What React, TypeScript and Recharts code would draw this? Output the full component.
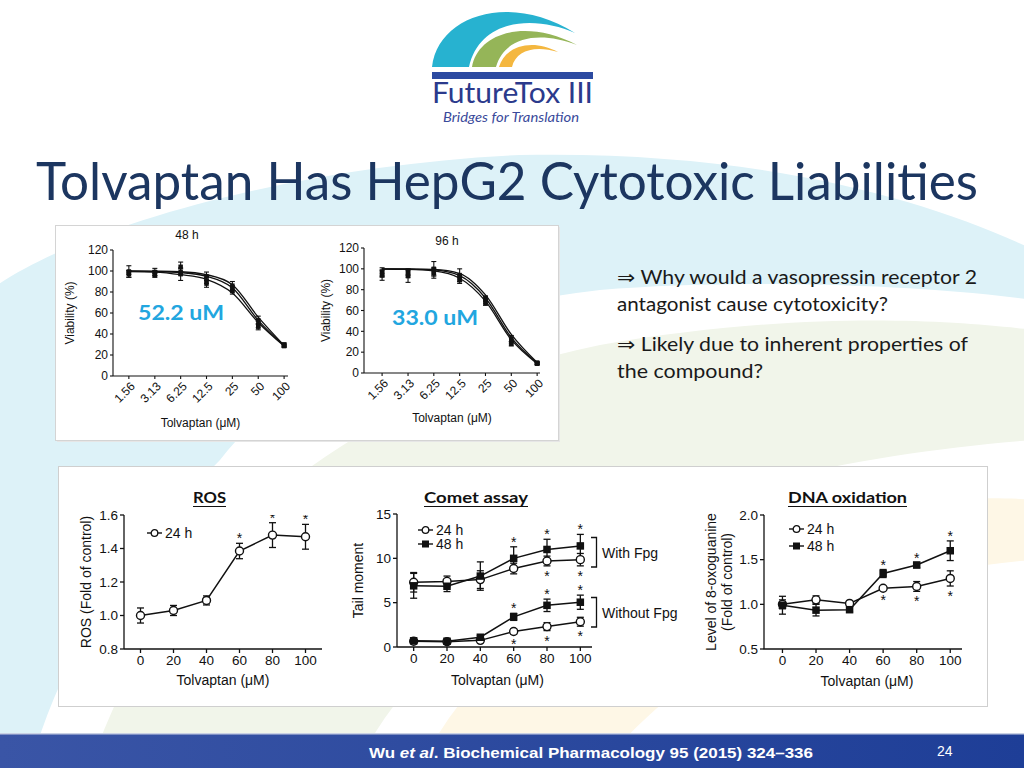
import React from 'react';
import { ComposedChart, Line, XAxis, YAxis, ErrorBar, Legend } from 'recharts';

const CHART_FONT = '"Liberation Sans", Arial, sans-serif';
const SLIDE_FONT = 'Lato, "Open Sans", sans-serif';
const INK = '#111';

// ---- cell viability, top-left panel ----
const CONC = [1.56, 3.13, 6.25, 12.5, 25, 50, 100];
const VIAB_TICKS = [0, 20, 40, 60, 80, 100, 120];

// 48 h: three fitted curves + three replicate series (mean, SD)
const FIT_48H_A = [100, 99.8, 99.3, 96.5, 87, 56, 29];
const FIT_48H_B = [99.8, 99.5, 98.5, 95, 84, 53, 28.8];
const FIT_48H_C = [99.5, 99, 96.5, 92, 79, 51, 28.5];
const REP_48H_1 = [99.5, 99, 104, 95, 86, 53, 30];
const REP_48H_1_SD = [5.5, 3.5, 4.5, 4, 4, 4, 1.5];
const REP_48H_2 = [97, 96, 97, 91, 83, 49, 29];
const REP_48H_2_SD = [3, 2, 6, 3, 3, 3, 1.5];
const REP_48H_3 = [98.5, 98, 99, 88, 81, 47, 28.5];
const REP_48H_3_SD = [2, 2.5, 3, 3.5, 3, 3, 1];

// 96 h
const FIT_96H_A = [100, 100, 99.5, 95.5, 75, 37, 10];
const FIT_96H_B = [100, 99.8, 99, 93.5, 72, 34, 9.5];
const FIT_96H_C = [99.8, 99.5, 98, 91, 69, 32, 9];
const REP_96H_1 = [97, 97, 100, 94, 72, 33, 10];
const REP_96H_1_SD = [4, 3, 7, 6, 2, 3, 1];
const REP_96H_2 = [94, 93, 96, 91, 70, 31, 9];
const REP_96H_2_SD = [5, 6, 5, 3, 3, 3, 1];
const REP_96H_3 = [95, 95, 97, 89, 67, 28, 9];
const REP_96H_3_SD = [3, 3, 3, 3, 2, 2, 1];

// ---- bottom panel: dose 0-100 uM ----
const DOSE = [0, 20, 40, 60, 80, 100];

const ROS_24H = [1.0, 1.03, 1.09, 1.385, 1.48, 1.47];
const ROS_24H_ERR = [0.045, 0.03, 0.027, 0.046, 0.074, 0.074];
const ROS_24H_SIG = [0, 0, 0, 1, 1, 1];

const COMET_24H_FPG = [7.3, 7.4, 7.6, 8.85, 9.7, 9.85];
const COMET_24H_FPG_ERR = [1.1, 0.6, 1.0, 0.6, 0.55, 0.7];
const COMET_24H_FPG_SIG = [0, 0, 0, 0, 1, 1];
const COMET_48H_FPG = [6.9, 6.85, 8.0, 10.0, 11.0, 11.4];
const COMET_48H_FPG_ERR = [1.4, 0.6, 1.6, 1.3, 1.15, 1.3];
const COMET_48H_FPG_SIG = [0, 0, 0, 1, 1, 1];
const COMET_24H = [0.65, 0.6, 0.75, 1.75, 2.3, 2.85];
const COMET_24H_ERR = [0.1, 0.1, 0.1, 0.3, 0.45, 0.5];
const COMET_24H_SIG = [0, 0, 0, 1, 1, 1];
const COMET_48H = [0.7, 0.65, 1.1, 3.4, 4.7, 5.05];
const COMET_48H_ERR = [0.1, 0.1, 0.2, 0.4, 0.7, 0.8];
const COMET_48H_SIG = [0, 0, 0, 1, 1, 1];

const DNA_24H = [1.0, 1.05, 1.01, 1.18, 1.2, 1.29];
const DNA_24H_ERR = [0.05, 0.045, 0.02, 0.02, 0.055, 0.085];
const DNA_24H_SIG = [0, 0, 0, 1, 1, 1];
const DNA_48H = [0.99, 0.935, 0.94, 1.345, 1.44, 1.6];
const DNA_48H_ERR = [0.1, 0.065, 0.025, 0.045, 0.03, 0.11];
const DNA_48H_SIG = [0, 0, 0, 1, 1, 1];

// ---------- small render helpers ----------
const square = (s: number) => (p: any) =>
  p.cx == null || p.cy == null ? (
    <g key={'q' + p.index} />
  ) : (
    <rect key={'q' + p.index} x={p.cx - s / 2} y={p.cy - s / 2} width={s} height={s} fill={INK} />
  );

const openCircle = (r: number) => (p: any) =>
  p.cx == null || p.cy == null ? (
    <g key={'c' + p.index} />
  ) : (
    <circle key={'c' + p.index} cx={p.cx} cy={p.cy} r={r} fill="#fff" stroke={INK} strokeWidth={1.4} />
  );

const starDot = (p: any) =>
  p.cx == null || p.cy == null || p.value == null ? (
    <g key={'s' + p.index} />
  ) : (
    <text key={'s' + p.index} x={p.cx} y={p.cy + 7.5} textAnchor="middle" fontSize={14} fontFamily={CHART_FONT} fill={INK}>
      *
    </text>
  );

const slantTick = (p: any) => {
  const x = p.x + 4;
  const y = p.y + 3;
  return (
    <text x={x} y={y} dy="0.35em" transform={`rotate(-45 ${x} ${y})`} textAnchor="end" fontSize={12} fontFamily={CHART_FONT} fill={INK}>
      {String(p.payload.value)}
    </text>
  );
};

// rotated y-axis title, x / cy in chart coordinates
const yTitle = (lines: string[], x: number, cy: number, fs: number) => () => (
  <g>
    {lines.map((t, i) => (
      <text
        key={t}
        x={x + i * (fs + 2)}
        y={cy}
        transform={`rotate(-90 ${x + i * (fs + 2)} ${cy})`}
        textAnchor="middle"
        dominantBaseline="central"
        fontSize={fs}
        fontFamily={CHART_FONT}
        fill={INK}
      >
        {t}
      </text>
    ))}
  </g>
);

function KeyBox({ items, row }: { items: { label: string; marker: string }[]; row: number }) {
  return (
    <div style={{ fontFamily: CHART_FONT, fontSize: 14, color: INK }}>
      {items.map((it) => (
        <div key={it.label} style={{ display: 'flex', alignItems: 'center', height: row }}>
          <svg width={15} height={10} style={{ marginRight: 3 }}>
            <line x1={0} x2={15} y1={5} y2={5} stroke={INK} strokeWidth={1.4} />
            {it.marker === 'circle' ? (
              <circle cx={7.5} cy={5} r={3.3} fill="#fff" stroke={INK} strokeWidth={1.3} />
            ) : (
              <rect x={4} y={1.5} width={7} height={7} fill={INK} />
            )}
          </svg>
          <span>{it.label}</span>
        </div>
      ))}
    </div>
  );
}

// ---------- viability chart ----------
function ViabilityChart({ fits, reps, sds, box, domain }: any) {
  const rows = CONC.map((c, i) => {
    const r: Record<string, number> = { conc: c };
    fits.forEach((f: number[], k: number) => (r['fit' + k] = f[i]));
    reps.forEach((p: number[], k: number) => {
      r['rep' + k] = p[i];
      r['sd' + k] = sds[k][i];
    });
    return r;
  });
  const plotH = box.h - box.mt - box.xh;
  return (
    <div style={{ position: 'absolute', left: box.left, top: box.top }}>
      <ComposedChart width={box.w} height={box.h} data={rows} margin={{ top: box.mt, right: 10, bottom: 0, left: 5 }}>
        <XAxis
          dataKey="conc"
          type="number"
          scale="log"
          domain={domain}
          allowDataOverflow
          ticks={CONC}
          interval={0}
          height={box.xh}
          tickSize={3}
          tickMargin={2}
          tick={slantTick}
          axisLine={{ stroke: INK, strokeWidth: 1.1 }}
          tickLine={{ stroke: INK, strokeWidth: 1.1 }}
          label={{ value: 'Tolvaptan (μM)', position: 'insideBottom', offset: 5, fontSize: 12, fill: INK, fontFamily: CHART_FONT }}
        />
        <YAxis
          type="number"
          domain={[0, 120]}
          ticks={VIAB_TICKS}
          interval={0}
          width={box.yw}
          tickSize={3}
          tickMargin={2}
          tick={{ fontSize: 12, fill: INK, fontFamily: CHART_FONT }}
          axisLine={{ stroke: INK, strokeWidth: 1.1 }}
          tickLine={{ stroke: INK, strokeWidth: 1.1 }}
          label={{ content: yTitle(['Viability (%)'], box.yt, box.mt + plotH / 2, 12) }}
        />
        {fits.map((_: number[], k: number) => (
          <Line key={'f' + k} dataKey={'fit' + k} type="monotone" stroke={INK} strokeWidth={1.3} dot={false} activeDot={false} legendType="none" isAnimationActive={false} />
        ))}
        {reps.map((_: number[], k: number) => (
          <Line key={'r' + k} dataKey={'rep' + k} stroke="none" dot={square(4.5)} activeDot={false} legendType="none" isAnimationActive={false}>
            <ErrorBar dataKey={'sd' + k} width={2.5} stroke={INK} strokeWidth={1.1} direction="y" />
          </Line>
        ))}
      </ComposedChart>
    </div>
  );
}

// ---------- dose-response charts ----------
type Series = { key: string; values: number[]; errs: number[]; marker: string; sig?: number[]; side?: number };

function DoseChart({ series, box, yDomain, yTicks, yFmt, xDomain, starPad, yLines, legend, xDx }: any) {
  const rows = DOSE.map((d, i) => {
    const r: Record<string, number | null> = { dose: d };
    series.forEach((s: Series) => {
      r[s.key] = s.values[i];
      r[s.key + 'E'] = s.errs[i];
      r[s.key + 'S'] = s.sig && s.sig[i] ? s.values[i] + (s.side || 1) * (s.errs[i] + starPad) : null;
    });
    return r;
  });
  const plotH = box.h - box.mt - box.xh;
  return (
    <div style={{ position: 'absolute', left: box.left, top: box.top }}>
      <ComposedChart width={box.w} height={box.h} data={rows} margin={{ top: box.mt, right: 10, bottom: 0, left: 4 }}>
        <XAxis
          dataKey="dose"
          type="number"
          domain={xDomain}
          allowDataOverflow
          ticks={DOSE}
          interval={0}
          height={box.xh}
          tickSize={4}
          tickMargin={2}
          tick={{ fontSize: 13.5, fill: INK, fontFamily: CHART_FONT }}
          axisLine={{ stroke: INK, strokeWidth: 1.3 }}
          tickLine={{ stroke: INK, strokeWidth: 1.3 }}
          label={{ value: 'Tolvaptan (μM)', position: 'insideBottom', offset: 5, dx: xDx, fontSize: 14, fill: INK, fontFamily: CHART_FONT }}
        />
        <YAxis
          type="number"
          domain={yDomain}
          allowDataOverflow
          ticks={yTicks}
          interval={0}
          tickFormatter={yFmt}
          width={box.yw}
          tickSize={4}
          tickMargin={2}
          tick={{ fontSize: 13.5, fill: INK, fontFamily: CHART_FONT }}
          axisLine={{ stroke: INK, strokeWidth: 1.3 }}
          tickLine={{ stroke: INK, strokeWidth: 1.3 }}
          label={{ content: yTitle(yLines, box.yt, box.mt + plotH / 2, 14) }}
        />
        {series.map((s: Series) => (
          <Line
            key={s.key}
            dataKey={s.key}
            stroke={INK}
            strokeWidth={1.5}
            dot={s.marker === 'circle' ? openCircle(4) : square(7.5)}
            activeDot={false}
            legendType="none"
            isAnimationActive={false}
          >
            <ErrorBar dataKey={s.key + 'E'} width={3.5} stroke={INK} strokeWidth={1.3} direction="y" />
          </Line>
        ))}
        {series
          .filter((s: Series) => s.sig)
          .map((s: Series) => (
            <Line key={s.key + 'S'} dataKey={s.key + 'S'} stroke="none" dot={starDot} activeDot={false} legendType="none" isAnimationActive={false} />
          ))}
        <Legend
          layout="vertical"
          align="center"
          verticalAlign="middle"
          wrapperStyle={{ left: legend.x, top: legend.y, width: 60 }}
          content={() => <KeyBox items={legend.items} row={legend.row} />}
        />
      </ComposedChart>
    </div>
  );
}

function Backdrop() {
  const body = { fontFamily: SLIDE_FONT, fontSize: 18.5, fill: '#1a1a1a' };
  return (
    <svg width={1024} height={768} style={{ position: 'absolute', left: 0, top: 0 }}>
      <defs>
        <linearGradient id="footGrad" x1="0" y1="0" x2="1" y2="0">
          <stop offset="0" stopColor="#3a55a6" />
          <stop offset="1" stopColor="#1e3e97" />
        </linearGradient>
      </defs>
      {/* faint watermark arcs */}
      <path d="M -10 768 L -10 290 C 80 225 300 165 520 155 C 760 150 930 200 1034 250 L 1034 300 C 900 282 720 280 600 290 C 420 310 280 380 220 460 C 120 560 60 660 30 768 Z" fill="#ddf2f8" />
      <path d="M 90 768 C 160 560 330 400 600 345 C 800 310 950 320 1034 330 L 1034 440 C 900 450 720 480 600 540 C 480 600 400 680 355 768 Z" fill="#f1f5ea" />
      <path d="M 420 768 C 480 640 620 560 800 520 C 900 500 980 495 1034 500 L 1034 560 C 880 570 700 640 600 768 Z" fill="#fef7e6" />

      {/* logo */}
      <path d="M 432 67 C 438 15 510 -8 575 33 C 535 15 480 18 469 67 Z" fill="#27b2d0" />
      <path d="M 472 67 C 478 33 525 18 577 45 C 540 31 505 36 496 67 Z" fill="#95b558" />
      <path d="M 499 67 C 505 46 532 38 558 52 C 535 45 516 50 512 67 Z" fill="#f4b73f" />
      <rect x={432} y={72} width={161} height={7} fill="#2c4aa1" />
      <text x={432} y={103} fontFamily={SLIDE_FONT} fontSize={28} fill="#2b3a8c" textLength={161} lengthAdjust="spacingAndGlyphs">
        FutureTox III
      </text>
      <text x={443} y={122} fontFamily={SLIDE_FONT} fontStyle="italic" fontSize={12.5} fill="#3a4a9b" textLength={136} lengthAdjust="spacingAndGlyphs">
        Bridges for Translation
      </text>

      {/* title */}
      <text x={36} y={200} fontFamily={SLIDE_FONT} fontSize={53} fill="#1c3660" textLength={942} lengthAdjust="spacingAndGlyphs">
        Tolvaptan Has HepG2 Cytotoxic Liabilities
      </text>

      {/* panels */}
      <rect x={57} y={227} width={503} height={215} fill="#e6e6e6" />
      <rect x={55.5} y={225.5} width={503} height={215} fill="#fff" stroke="#d4d4d4" />
      <rect x={58.5} y={466.5} width={929} height={240} fill="#fff" stroke="#cfcfcf" />

      <text x={187} y={239} textAnchor="middle" fontFamily={CHART_FONT} fontSize={12} fill={INK}>48 h</text>
      <text x={447} y={245} textAnchor="middle" fontFamily={CHART_FONT} fontSize={12} fill={INK}>96 h</text>
      <text x={138} y={320} fontFamily={SLIDE_FONT} fontWeight={700} fontSize={21} fill="#22a6df" textLength={86} lengthAdjust="spacingAndGlyphs">52.2 uM</text>
      <text x={392} y={325} fontFamily={SLIDE_FONT} fontWeight={700} fontSize={21} fill="#22a6df" textLength={86} lengthAdjust="spacingAndGlyphs">33.0 uM</text>

      {/* side notes */}
      <text x={617} y={284} {...body} textLength={360} lengthAdjust="spacingAndGlyphs">⇒ Why would a vasopressin receptor 2</text>
      <text x={617} y={311} {...body} textLength={271} lengthAdjust="spacingAndGlyphs">antagonist cause cytotoxicity?</text>
      <text x={617} y={351} {...body} textLength={351} lengthAdjust="spacingAndGlyphs">⇒ Likely due to inherent properties of</text>
      <text x={617} y={378} {...body} textLength={146} lengthAdjust="spacingAndGlyphs">the compound?</text>

      {/* bottom panel headings */}
      <text x={193} y={503} fontFamily={SLIDE_FONT} fontWeight={700} fontSize={15.5} fill="#111" textLength={33} lengthAdjust="spacingAndGlyphs">ROS</text>
      <line x1={193} x2={226} y1={506.5} y2={506.5} stroke="#111" strokeWidth={1.2} />
      <text x={424} y={502.5} fontFamily={SLIDE_FONT} fontWeight={700} fontSize={15.5} fill="#111" textLength={104} lengthAdjust="spacingAndGlyphs">Comet assay</text>
      <line x1={424} x2={528} y1={506.5} y2={506.5} stroke="#111" strokeWidth={1.2} />
      <text x={788} y={503} fontFamily={SLIDE_FONT} fontWeight={700} fontSize={15.5} fill="#111" textLength={119} lengthAdjust="spacingAndGlyphs">DNA oxidation</text>
      <line x1={788} x2={907} y1={506.5} y2={506.5} stroke="#111" strokeWidth={1.2} />

      {/* comet assay brackets */}
      <path d="M 591 537.5 H 596.5 V 567 H 591" fill="none" stroke={INK} strokeWidth={1.3} />
      <text x={602} y={558} fontFamily={CHART_FONT} fontSize={14} fill={INK}>With Fpg</text>
      <path d="M 591 597.5 H 596.5 V 627 H 591" fill="none" stroke={INK} strokeWidth={1.3} />
      <text x={602} y={618} fontFamily={CHART_FONT} fontSize={14} fill={INK}>Without Fpg</text>

      {/* footer */}
      <rect x={0} y={734} width={1024} height={34} fill="url(#footGrad)" />
      <rect x={0} y={733} width={1024} height={1.5} fill="#c9d0e4" />
      <text x={369} y={758} fontFamily={'"Liberation Sans Narrow", "Liberation Sans", Arial, sans-serif'} fontWeight={700} fontSize={15} fill="#fff" textLength={444} lengthAdjust="spacingAndGlyphs">
        Wu <tspan fontStyle="italic">et al</tspan>. Biochemical Pharmacology 95 (2015) 324–336
      </text>
      <text x={937} y={756} fontFamily={'"Liberation Sans Narrow", "Liberation Sans", Arial, sans-serif'} fontSize={14} fill="#fff">24</text>
    </svg>
  );
}

export default function App() {
  return (
    <div style={{ position: 'absolute', left: 0, top: 0, width: 1024, height: 768, overflow: 'hidden', background: '#fff' }}>
      <Backdrop />
      <ViabilityChart
        fits={[FIT_48H_A, FIT_48H_B, FIT_48H_C]}
        reps={[REP_48H_1, REP_48H_2, REP_48H_3]}
        sds={[REP_48H_1_SD, REP_48H_2_SD, REP_48H_3_SD]}
        domain={[1.02, 111]}
        box={{ left: 58, top: 228, w: 240, h: 204, mt: 22, xh: 56, yw: 50, yt: 12 }}
      />
      <ViabilityChart
        fits={[FIT_96H_A, FIT_96H_B, FIT_96H_C]}
        reps={[REP_96H_1, REP_96H_2, REP_96H_3]}
        sds={[REP_96H_1_SD, REP_96H_2_SD, REP_96H_3_SD]}
        domain={[0.96, 108]}
        box={{ left: 310, top: 228, w: 240, h: 199, mt: 20, xh: 54, yw: 49, yt: 16 }}
      />
      <DoseChart
        series={[{ key: 'ros', values: ROS_24H, errs: ROS_24H_ERR, marker: 'circle', sig: ROS_24H_SIG, side: 1 }]}
        box={{ left: 62, top: 505, w: 270, h: 185, mt: 10, xh: 41, yw: 58, yt: 24 }}
        xDomain={[-10, 110]}
        yDomain={[0.8, 1.6]}
        yTicks={[0.8, 1.0, 1.2, 1.4, 1.6]}
        yFmt={(v: number) => v.toFixed(1)}
        starPad={0.045}
        yLines={['ROS (Fold of control)']}
        xDx={0}
        legend={{ x: 85, y: 19, row: 17, items: [{ label: '24 h', marker: 'circle' }] }}
      />
      <DoseChart
        series={[
          { key: 'c24f', values: COMET_24H_FPG, errs: COMET_24H_FPG_ERR, marker: 'circle', sig: COMET_24H_FPG_SIG, side: -1 },
          { key: 'c48f', values: COMET_48H_FPG, errs: COMET_48H_FPG_ERR, marker: 'square', sig: COMET_48H_FPG_SIG, side: 1 },
          { key: 'c24', values: COMET_24H, errs: COMET_24H_ERR, marker: 'circle', sig: COMET_24H_SIG, side: -1 },
          { key: 'c48', values: COMET_48H, errs: COMET_48H_ERR, marker: 'square', sig: COMET_48H_SIG, side: 1 },
        ]}
        box={{ left: 340, top: 504, w: 262, h: 186, mt: 10, xh: 43, yw: 53, yt: 18 }}
        xDomain={[-10, 107]}
        yDomain={[0, 15]}
        yTicks={[0, 5, 10, 15]}
        yFmt={(v: number) => String(v)}
        starPad={0.85}
        yLines={['Tail moment']}
        xDx={3}
        legend={{
          x: 78,
          y: 19,
          row: 14,
          items: [
            { label: '24 h', marker: 'circle' },
            { label: '48 h', marker: 'square' },
          ],
        }}
      />
      <DoseChart
        series={[
          { key: 'd24', values: DNA_24H, errs: DNA_24H_ERR, marker: 'circle', sig: DNA_24H_SIG, side: -1 },
          { key: 'd48', values: DNA_48H, errs: DNA_48H_ERR, marker: 'square', sig: DNA_48H_SIG, side: 1 },
        ]}
        box={{ left: 700, top: 505, w: 272, h: 186, mt: 10, xh: 42, yw: 60, yt: 11 }}
        xDomain={[-11, 107]}
        yDomain={[0.5, 2.0]}
        yTicks={[0.5, 1.0, 1.5, 2.0]}
        yFmt={(v: number) => v.toFixed(1)}
        starPad={0.08}
        yLines={['Level of 8-oxoguanine', '(Fold of control)']}
        xDx={4}
        legend={{
          x: 89,
          y: 15,
          row: 17,
          items: [
            { label: '24 h', marker: 'circle' },
            { label: '48 h', marker: 'square' },
          ],
        }}
      />
    </div>
  );
}
